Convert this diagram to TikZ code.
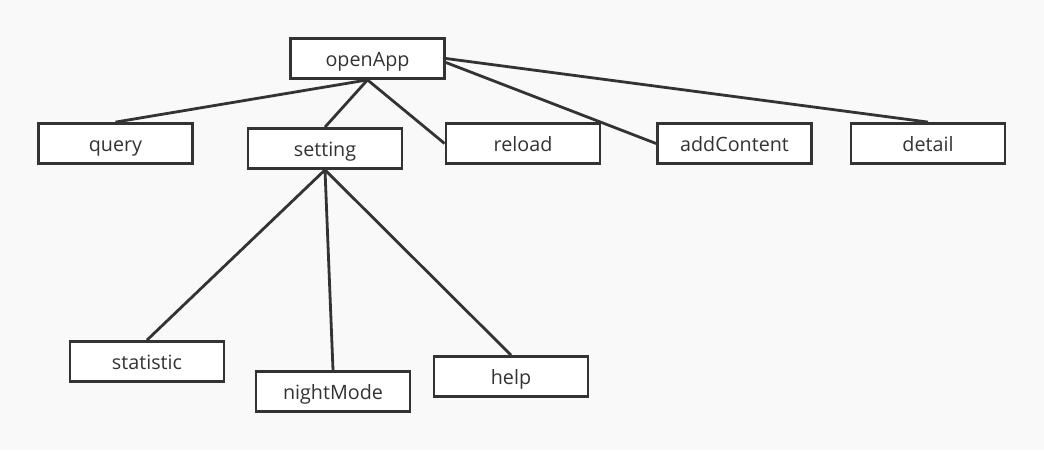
\documentclass[tikz,border=0pt]{standalone}
\usepackage{fontspec}
\setmainfont{Open Sans}
\definecolor{bg}{HTML}{F9F9F9}
\definecolor{ink}{HTML}{333333}
\begin{document}
\begin{tikzpicture}[x=0.75pt,y=-0.75pt,
  box/.style={draw=ink,fill=white,line width=2.1pt,minimum width=115.5pt,minimum height=30pt,inner sep=0pt,text=ink,text height=13pt,text depth=1pt,font=\fontsize{14.8}{16}\selectfont},
  link/.style={draw=ink,line width=2.1pt}]
\fill[bg] (0,0) rectangle (1044,450);
\useasboundingbox (0,0) rectangle (1044,450);
\node[box] (open) at (367.5,58.5) {openApp};
\node[box] (query) at (115.5,143.5) {query};
\node[box] (setting) at (325,148.5) {setting};
\node[box] (reload) at (523,143.5) {reload};
\node[box] (add) at (734.5,143.5) {addContent};
\node[box] (detail) at (928,143.5) {detail};
\node[box] (stat) at (147,361.5) {statistic};
\node[box] (night) at (333,391.5) {nightMode};
\node[box] (help) at (511,376.5) {help};
\draw[link] (open.south) -- (query.north);
\draw[link] (open.south) -- (setting.north);
\draw[link] (open.south) -- (reload.west);
\draw[link] ([yshift=-3pt]open.east) -- (add.west);
\draw[link] (open.east) -- (detail.north);
\draw[link] (setting.south) -- (stat.north);
\draw[link] (setting.south) -- (night.north);
\draw[link] (setting.south) -- (help.north);
\end{tikzpicture}
\end{document}
